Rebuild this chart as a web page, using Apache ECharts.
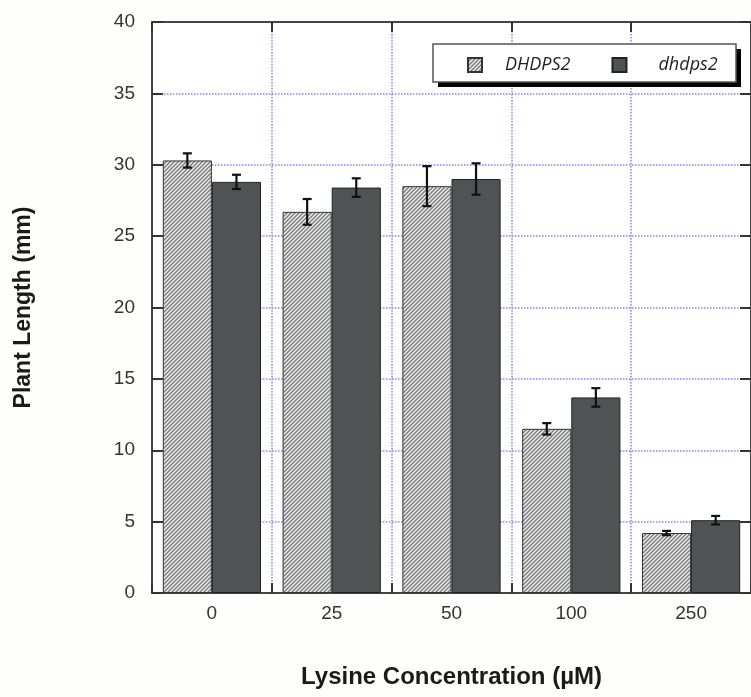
<!DOCTYPE html>
<html>
<head>
<meta charset="utf-8">
<script src="https://cdn.jsdelivr.net/npm/echarts@6/dist/echarts.min.js"></script>
<style>
  html, body { margin: 0; padding: 0; background: #fefefc; }
  #chart { width: 751px; height: 697px; }
</style>
</head>
<body>
<div id="chart"></div>
<script>
// lysine concentration (uM)
const categories = ['0', '25', '50', '100', '250'];
// plant length (mm), mean and error
const wildMean = [30.3, 26.7, 28.5, 11.5, 4.2];
const wildErr = [0.5, 0.9, 1.4, 0.4, 0.15];
const mutantMean = [28.8, 28.4, 29.0, 13.7, 5.1];
const mutantErr = [0.5, 0.65, 1.1, 0.65, 0.3];
const yMin = 0, yMax = 40, yStep = 5;

// hatch fill for the DHDPS2 bars
function makeHatch() {
  const c = document.createElement('canvas');
  c.width = 4; c.height = 4;
  const ctx = c.getContext('2d');
  ctx.fillStyle = '#ededed';
  ctx.fillRect(0, 0, 4, 4);
  ctx.strokeStyle = '#7c7c7c';
  ctx.lineWidth = 1.4;
  ctx.beginPath();
  ctx.moveTo(-1, 5); ctx.lineTo(5, -1);
  ctx.moveTo(-1, 1); ctx.lineTo(1, -1);
  ctx.moveTo(3, 5); ctx.lineTo(5, 3);
  ctx.stroke();
  return c;
}

function errorBars(side) {
  return function (params, api) {
    const band = api.size([1, 0])[0];
    const off = side * band * 0.205;
    const top = api.coord([api.value(0), api.value(2)]);
    const bot = api.coord([api.value(0), api.value(1)]);
    const x = top[0] + off;
    const cap = 4.5;
    const style = { stroke: '#111', lineWidth: 2.2 };
    return {
      type: 'group',
      children: [
        { type: 'line', shape: { x1: x, y1: top[1], x2: x, y2: bot[1] }, style: style },
        { type: 'line', shape: { x1: x - cap, y1: top[1], x2: x + cap, y2: top[1] }, style: style },
        { type: 'line', shape: { x1: x - cap, y1: bot[1], x2: x + cap, y2: bot[1] }, style: style }
      ]
    };
  };
}

const gridLine = { show: true, lineStyle: { color: '#8282f2', type: [1.5, 1.5], width: 1.5 } };
const frameLine = () => ({ show: true, onZero: false, lineStyle: { color: '#444', width: 2 } });
const innerTick = (len) => ({ show: true, inside: true, length: len, lineStyle: { color: '#333', width: 2 } });

const chart = echarts.init(document.getElementById('chart'));
chart.setOption({
  backgroundColor: '#fefefc',
  animation: false,
  textStyle: { fontFamily: 'Liberation Sans' },
  grid: { left: 152, top: 22, right: -4, bottom: 104, backgroundColor: '#ffffff', show: true, borderWidth: 0 },
  graphic: [
    { type: 'rect', z: 3, shape: { x: 438, y: 49, width: 303, height: 38 }, style: { fill: '#000' } },
    { type: 'rect', z: 3, shape: { x: 433, y: 44, width: 303, height: 38 }, style: { fill: '#fff', stroke: '#555', lineWidth: 1.5 } }
  ],
  legend: {
    data: [
      { name: 'DHDPS2' },
      { name: 'dhdps2', textStyle: { padding: [0, 0, 0, 27] } }
    ],
    left: 467,
    top: 56,
    orient: 'horizontal',
    icon: 'rect',
    itemWidth: 14,
    itemHeight: 14,
    itemGap: 41,
    padding: 0,
    z: 10,
    textStyle: {
      fontFamily: 'Open Sans',
      fontStyle: 'italic',
      fontSize: 18,
      lineHeight: 16,
      color: '#222',
      padding: [0, 0, 0, 18]
    }
  },
  xAxis: [
    {
      type: 'category',
      data: categories,
      position: 'bottom',
      axisLine: frameLine(),
      axisTick: innerTick(10),
      splitLine: gridLine,
      axisLabel: { fontSize: 19, color: '#333', margin: 11 },
      name: 'Lysine Concentration (µM)',
      nameLocation: 'middle',
      nameGap: 72,
      nameTextStyle: { fontSize: 24, fontWeight: 'bold', color: '#1a1a1a' }
    },
    {
      type: 'category',
      data: categories,
      position: 'top',
      axisLine: frameLine(),
      axisTick: innerTick(10),
      axisLabel: { show: false },
      splitLine: { show: false }
    }
  ],
  yAxis: [
    {
      type: 'value',
      min: yMin,
      max: yMax,
      interval: yStep,
      position: 'left',
      axisLine: frameLine(),
      axisTick: innerTick(11),
      splitLine: gridLine,
      axisLabel: { fontSize: 19, color: '#333', margin: 17 },
      name: 'Plant Length (mm)',
      nameLocation: 'middle',
      nameGap: 117,
      nameTextStyle: { fontSize: 23, fontWeight: 'bold', color: '#1a1a1a' }
    },
    {
      type: 'value',
      min: yMin,
      max: yMax,
      interval: yStep,
      position: 'right',
      axisLine: frameLine(),
      axisTick: innerTick(11),
      splitLine: { show: false },
      axisLabel: { show: false }
    }
  ],
  series: [
    {
      name: 'DHDPS2',
      type: 'bar',
      data: wildMean,
      barGap: '0%',
      barCategoryGap: '18%',
      itemStyle: { color: { image: makeHatch(), repeat: 'repeat' }, borderColor: '#333', borderWidth: 1 }
    },
    {
      name: 'dhdps2',
      type: 'bar',
      data: mutantMean,
      barGap: '0%',
      barCategoryGap: '18%',
      itemStyle: { color: '#505353', borderColor: '#222', borderWidth: 1 }
    },
    {
      name: 'DHDPS2 err',
      type: 'custom',
      z: 5,
      renderItem: errorBars(-1),
      encode: { x: 0, y: [1, 2] },
      data: categories.map((c, i) => [i, wildMean[i] - wildErr[i], wildMean[i] + wildErr[i]])
    },
    {
      name: 'dhdps2 err',
      type: 'custom',
      z: 5,
      renderItem: errorBars(1),
      encode: { x: 0, y: [1, 2] },
      data: categories.map((c, i) => [i, mutantMean[i] - mutantErr[i], mutantMean[i] + mutantErr[i]])
    }
  ]
});
</script>
</body>
</html>
